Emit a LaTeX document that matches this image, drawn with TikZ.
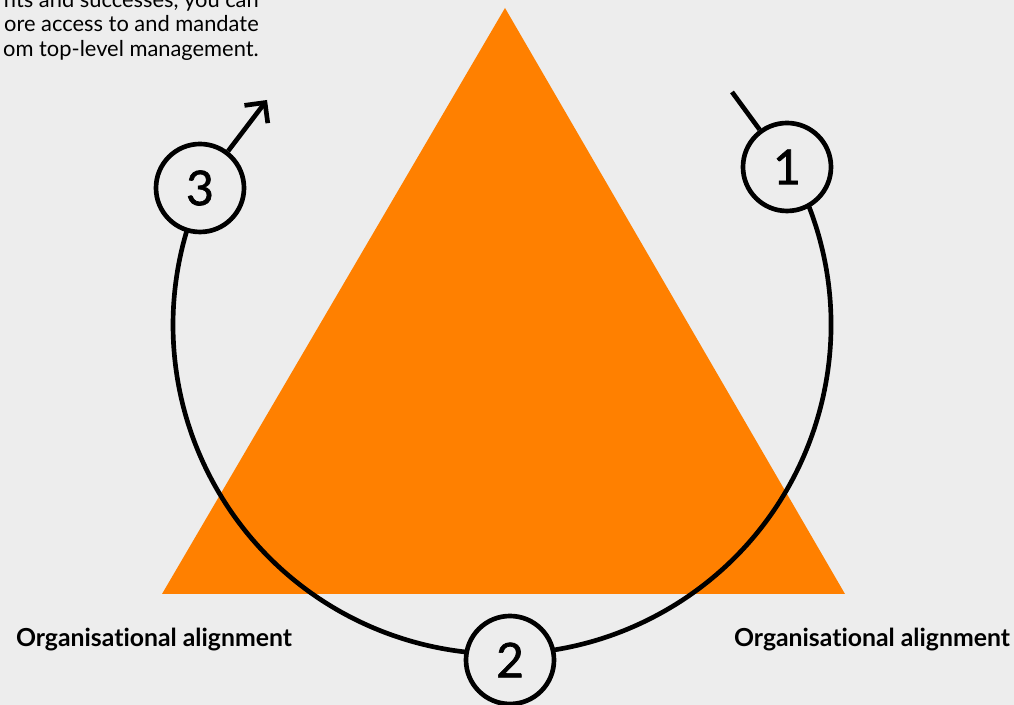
\documentclass[tikz,border=0pt]{standalone}
\usepackage{fontspec}
\setmainfont{Lato}[Ligatures=CommonOff]
\newfontfamily\numfont{Lato}[FakeBold=1.3]
\usetikzlibrary{arrows.meta}
\definecolor{bg}{HTML}{EDEDED}
\definecolor{tri}{HTML}{FF8000}
\tikzset{
  numcirc/.style={circle, draw=black, line width=3.5pt, fill=bg, minimum size=66pt, inner sep=0pt, font=\numfont\fontsize{36}{36}\selectfont},
  conn/.style={draw=black, line width=3.5pt},
  lbl/.style={font=\fontsize{18.6}{22}\selectfont\bfseries, inner sep=0pt},
  body/.style={font=\fontsize{16.4}{18.75}\selectfont, align=right, inner sep=0pt, anchor=base east}
}
\begin{document}
\begin{tikzpicture}[x=0.75pt,y=0.75pt]
\useasboundingbox (0,0) rectangle (1014,705);
\fill[bg] (0,0) rectangle (1014,705);
\clip (0,0) rectangle (1014,705);
% text at top left
\node[body] (t1) at (259,697) {nts and successes, you can};
\node[body] (t2) at (259,673) {ore access to and mandate};
\node[body] (t3) at (259,648) {om top-level management.};
% triangle
\fill[tri] (505,697) -- (162,111) -- (845,111) -- cycle;
% big arc
\draw[conn] (502,380) ++(29:329) arc[start angle=29, end angle=-204.4, radius=329];
% numbered circles
\node[numcirc] (c1) at (787,538) {1};
\node[numcirc] (c2) at (510,45) {2};
\node[numcirc] (c3) at (200,517) {3};
\coordinate (e1) at (732,613);
\coordinate (e3) at (267,605);
\draw[conn] (c1) -- (e1);
\draw[conn, -{Straight Barb[length=11pt,width=22pt,line width=3.5pt]}, line join=miter] (c3) -- (e3);
% labels
\node[lbl] (l1) at (154,65) {Organisational alignment};
\node[lbl] (l2) at (872,65) {Organisational alignment};
\end{tikzpicture}
\end{document}
